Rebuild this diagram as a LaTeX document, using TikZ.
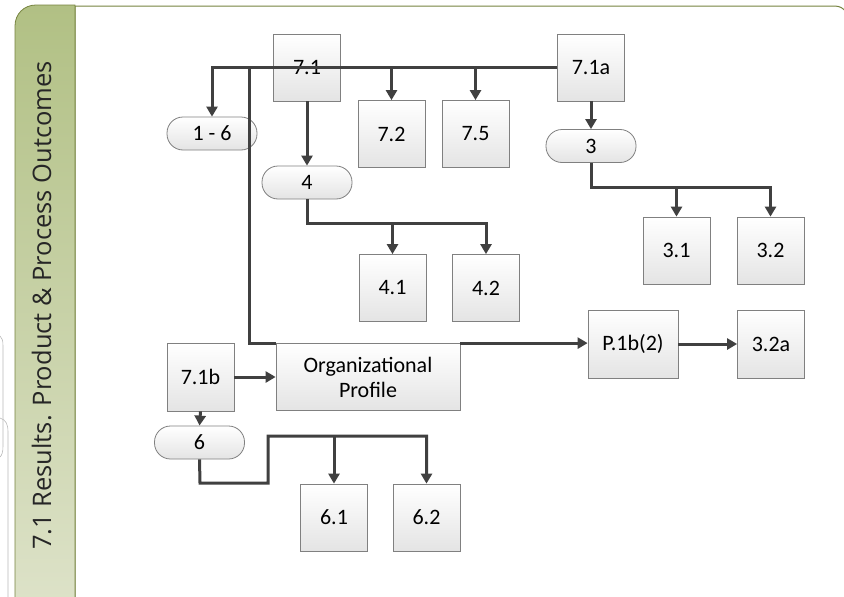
\documentclass[tikz,border=0pt]{standalone}
\usepackage{fontspec}
\setmainfont{Carlito}
\newfontfamily\sidefont{Open Sans}
\usetikzlibrary{arrows.meta}
\definecolor{boxline}{HTML}{808080}
\definecolor{boxbot}{HTML}{E4E4E4}
\definecolor{conncol}{HTML}{404040}
\definecolor{tabtop}{HTML}{B1C084}
\definecolor{tabbot}{HTML}{DEE3CA}
\definecolor{olive}{HTML}{76833F}
\begin{document}
\begin{tikzpicture}[x=1pt,y=-1pt,
  box/.style={draw=boxline, line width=0.8pt, top color=white, bottom color=boxbot,
    minimum width=67pt, minimum height=67pt, inner sep=0pt,
    font=\fontsize{22}{25}\selectfont, text=black, align=center},
  pill/.style={box, minimum width=90pt, minimum height=33pt, rounded corners=16pt},
  conn/.style={draw=conncol, line width=3pt},
  arr/.style={conn, -{Triangle[length=10pt,width=11pt]}}]
\useasboundingbox (0,0) rectangle (844,597);
\clip (0,0) rectangle (844,597);
% faint background tabs
\draw[gray!55, line width=0.6pt] (0,336) .. controls (2,338) and (3,340) .. (3,346) -- (3,446) .. controls (3,452) and (2,455) .. (0,457);
\draw[gray!55, line width=0.6pt] (0,418) .. controls (6,420) and (8,424) .. (8,432) -- (8,600);
% card
\draw[olive, line width=1pt, fill=white] (75,620) -- (75,6) -- (834,6) .. controls (840,6) and (843,8) .. (846,12) -- (846,620);
% green tab
\shade[top color=tabtop, bottom color=tabbot, draw=olive, line width=0.8pt]
  (15,620) -- (15,26) .. controls (15,14) and (24,5) .. (36,5) -- (75,5) -- (75,620) -- cycle;
\node[rotate=90, anchor=base, font=\sidefont\fontsize{25.5}{25}\selectfont, text=black!85] (side) at (51,305.5)
  {7.1 Results. Product \& Process Outcomes};
% nodes
\node[box] (n71) at (307,67.5) {7.1};
\node[box] (n71a) at (591,67.5) {7.1a};
\node[box] (n72) at (391.5,134) {7.2};
\node[box] (n75) at (475.5,134) {7.5};
\node[pill] (n16) at (212,133.5) {1 - 6};
\node[pill] (n4) at (307,182.5) {4};
\node[box] (n41) at (392.5,288) {4.1};
\node[box] (n42) at (486,288) {4.2};
\node[pill] (n3) at (591,146) {3};
\node[box] (n31) at (676.5,250.5) {3.1};
\node[box] (n32) at (770.5,250.5) {3.2};
\node[box, minimum width=90pt, minimum height=68pt] (p1b) at (633,344) {P.1b(2)};
\node[box, minimum height=68pt] (n32a) at (771,344) {3.2a};
\node[box, minimum width=184pt] (org) at (368,377) {Organizational\\Profile};
\node[box, minimum height=68pt] (n71b) at (200.5,377) {7.1b};
\node[pill] (n6) at (199.5,442.5) {6};
\node[box] (n61) at (334,517.5) {6.1};
\node[box] (n62) at (426.5,517.5) {6.2};
% connectors
\coordinate (hubL) at (249,67.5);
\draw[arr] (n71a.west) -- (n16.north |- n71a.west) -- (n16.north);
\draw[arr] (n72.north |- n71a.west) -- (n72.north);
\draw[arr] (n75.north |- n71a.west) -- (n75.north);
\draw[conn] (hubL) -- (hubL |- org.north) -- (org.north west);
\draw[arr] (org.north east) -- (org.north east -| p1b.west);
\draw[arr] (p1b.east) -- (p1b.east -| n32a.west);
\draw[arr] (n71.south) -- (n4.north);
\coordinate (j4) at (307,223);
\draw[arr] (n4.south) -- (j4) -- (j4 -| n42.north) -- (n42.north);
\draw[arr] (j4 -| n41.north) -- (n41.north);
\draw[arr] (n71a.south) -- (n3.north);
\coordinate (j3) at (591,187);
\draw[arr] (n3.south) -- (j3) -- (j3 -| n32.north) -- (n32.north);
\draw[arr] (j3 -| n31.north) -- (n31.north);
\draw[arr] (n71b.east) -- (org.west);
\draw[arr] (n71b.south) -- (n6.north);
\coordinate (j6a) at (200,483);
\coordinate (j6b) at (268,483);
\coordinate (j6c) at (268,436);
\draw[arr] (n6.south) -- (j6a) -- (j6b) -- (j6c) -- (j6c -| n62.north) -- (n62.north);
\draw[arr] (j6c -| n61.north) -- (n61.north);
\end{tikzpicture}
\end{document}
